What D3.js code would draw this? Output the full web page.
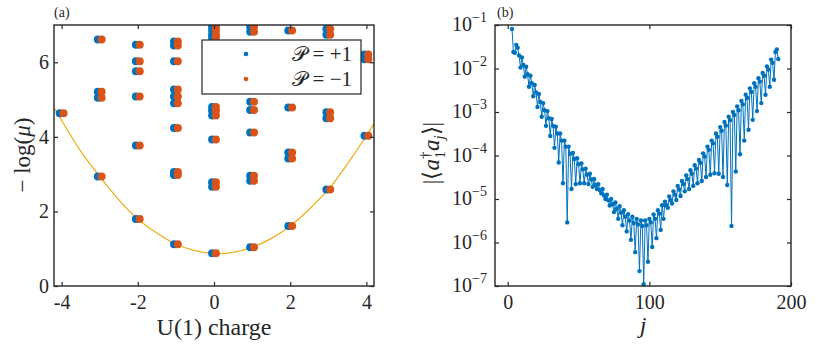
<!DOCTYPE html>
<html>
<head>
<meta charset="utf-8">
<style>
  body { margin: 0; background: #fff; }
  svg text { font-family: "Liberation Serif", "Times New Roman", serif !important; fill: #262626; }
</style>
</head>
<body>
<script src="https://d3js.org/d3.v7.min.js"></script>
<script>
  // ---- panel (a): entanglement levels per U(1) charge ----
  const charges = [-4, -3, -2, -1, 0, 1, 2, 3, 4];
  const levelsPlus = [
    [4.63],
    [6.61, 5.21, 5.05, 2.94],
    [6.47, 6.03, 5.76, 5.08, 3.77, 1.80],
    [6.56, 6.45, 6.03, 5.27, 5.08, 4.90, 4.24, 3.06, 2.98, 1.12],
    [6.95, 6.85, 6.74, 6.65, 4.80, 4.70, 4.57, 3.93, 2.78, 2.66, 0.88],
    [6.95, 6.82, 4.94, 4.72, 4.12, 2.96, 2.82, 1.04],
    [6.85, 4.79, 3.58, 3.42, 1.61],
    [6.89, 6.74, 4.66, 4.50, 2.59],
    [6.21, 6.08, 4.03]
  ];
  const levelsMinus = [
    [4.63],
    [6.61, 5.21, 5.05, 2.94],
    [6.47, 6.03, 5.76, 5.08, 3.77, 1.80],
    [6.56, 6.45, 6.03, 5.27, 5.08, 4.90, 4.24, 3.06, 2.98, 1.12],
    [6.95, 6.85, 6.74, 6.65, 4.80, 4.70, 4.57, 3.93, 2.78, 2.66, 0.88],
    [6.95, 6.82, 4.94, 4.72, 4.12, 2.96, 2.82, 1.04],
    [6.85, 4.79, 3.58, 3.42, 1.61],
    [6.89, 6.74, 4.66, 4.50, 2.59],
    [6.21, 6.08, 4.03]
  ];
  // fitted curve
  const fitQ   = [-4.2, -4, -3.5, -3, -2.5, -2, -1.5, -1, -0.5, 0, 0.5, 1, 1.5, 2, 2.5, 3, 3.5, 4, 4.2];
  const fitVal = [4.78, 4.44, 3.62, 2.94, 2.31, 1.80, 1.42, 1.12, 0.95, 0.87, 0.90, 1.04, 1.27, 1.61, 2.06, 2.59, 3.27, 4.03, 4.36];

  // ---- panel (b): |<a1^dag a_j>| for j = 3 .. 191 ----
  const firstSite = 3;
  const corr = [
    8.1e-2, 2.4e-2, 2.3e-2, 3.5e-2, 3.0e-2, 2.0e-2, 1.05e-2,
    1.8e-2, 1.2e-2, 6.5e-3, 1.1e-2, 7.4e-3, 3.8e-3, 6.8e-3, 4.6e-3, 2.3e-3,
    4.2e-3, 2.8e-3, 1.3e-3, 2.6e-3, 1.7e-3, 7.8e-4, 1.6e-3, 1.1e-3, 4.8e-4,
    1.05e-3, 7.2e-4, 2.8e-4, 6.9e-4, 4.8e-4, 1.5e-4, 4.6e-4, 3.2e-4, 6.9e-5,
    3.2e-4, 2.2e-4, 2.3e-5, 2.2e-4, 1.6e-4, 2.9e-6, 1.6e-4, 1.1e-4, 1.7e-5,
    1.15e-4, 8.3e-5, 2.2e-5, 8.7e-5, 6.3e-5, 2.3e-5, 6.6e-5, 4.8e-5, 2.3e-5,
    5.0e-5, 3.6e-5, 2.2e-5, 3.8e-5, 2.8e-5, 1.9e-5, 2.9e-5, 2.1e-5, 1.7e-5,
    2.2e-5, 1.6e-5, 1.35e-5, 1.7e-5, 1.2e-5, 1.0e-5, 1.26e-5, 9.3e-6, 7.1e-6,
    1.0e-5, 7.6e-6, 5.0e-6, 8.3e-6, 5.9e-6, 3.5e-6, 6.8e-6, 4.8e-6, 2.5e-6,
    5.5e-6, 3.9e-6, 1.8e-6, 4.5e-6, 3.2e-6, 1.15e-6, 3.9e-6, 2.8e-6, 6.0e-7,
    3.5e-6, 2.6e-6, 2.2e-7, 3.2e-6, 2.4e-6, 1.1e-7, 3.2e-6, 2.5e-6, 3.6e-7,
    3.5e-6, 2.9e-6, 7.9e-7, 4.4e-6, 3.5e-6, 1.26e-6, 5.5e-6, 4.6e-6, 1.95e-6,
    7.2e-6, 3.5e-6, 8.7e-6, 7.2e-6, 6.3e-6, 1.15e-5, 9.5e-6, 7.9e-6, 1.5e-5,
    1.26e-5, 9.5e-6, 2.0e-5, 1.66e-5, 1.17e-5, 2.6e-5, 2.2e-5, 1.5e-5, 3.5e-5,
    2.9e-5, 1.7e-5, 4.6e-5, 3.8e-5, 2.0e-5, 6.0e-5, 5.0e-5, 2.3e-5, 7.9e-5,
    6.8e-5, 2.6e-5, 1.12e-4, 9.5e-5, 3.2e-5, 1.6e-4, 1.35e-4, 3.6e-5, 2.2e-4,
    1.9e-4, 3.9e-5, 3.2e-4, 2.7e-4, 3.8e-5, 4.5e-4, 3.7e-4, 3.2e-5, 5.9e-4,
    4.9e-4, 2.1e-5, 7.8e-4, 6.5e-4, 2.4e-6, 1.0e-3, 8.5e-4, 4.3e-5, 1.35e-3,
    1.1e-3, 1.07e-4, 1.8e-3, 1.5e-3, 2.2e-4, 2.5e-3, 2.1e-3, 3.9e-4, 3.5e-3,
    2.9e-3, 6.6e-4, 4.6e-3, 3.8e-3, 1.05e-3, 6.0e-3, 5.0e-3, 1.6e-3, 7.9e-3,
    6.8e-3, 2.5e-3, 1.12e-2, 9.5e-3, 3.8e-3, 1.6e-2, 1.35e-2, 5.5e-3, 2.4e-2,
    2.75e-2, 1.66e-2
  ];

  const blue = "#0072BD", orange = "#D95319", yellow = "#EDB120", ink = "#262626";
  const serif = "'Liberation Serif', 'Times New Roman', serif";

  const svg = d3.select("body").append("svg")
    .attr("width", 831)
    .attr("height", 345)
    .attr("font-family", serif);

  // ================= panel (a) =================
  const xA = d3.scaleLinear().domain([-4.2, 4.2]).range([54, 374]);
  const yA = d3.scaleLinear().domain([0, 7]).range([286, 25]);

  svg.append("clipPath").attr("id", "clipA")
    .append("rect").attr("x", 54).attr("y", 25).attr("width", 320).attr("height", 261);

  const gA = svg.append("g").attr("clip-path", "url(#clipA)");

  gA.append("path")
    .datum(fitQ.map((q, i) => [q, fitVal[i]]))
    .attr("d", d3.line().x(d => xA(d[0])).y(d => yA(d[1])).curve(d3.curveNatural))
    .attr("fill", "none")
    .attr("stroke", yellow)
    .attr("stroke-width", 1.3);

  const plusPts = charges.flatMap((q, i) => levelsPlus[i].map(v => ({q, v})));
  const minusPts = charges.flatMap((q, i) => levelsMinus[i].map(v => ({q, v})));

  gA.selectAll(".plus").data(plusPts).enter()
    .append("circle")
    .attr("cx", d => xA(d.q - 0.05))
    .attr("cy", d => yA(d.v))
    .attr("r", 4)
    .style("fill", blue);

  gA.selectAll(".minus").data(minusPts).enter()
    .append("circle")
    .attr("cx", d => xA(d.q + 0.05))
    .attr("cy", d => yA(d.v))
    .attr("r", 4)
    .style("fill", orange);

  function frame(x0, y0, w, h) {
    svg.append("rect")
      .attr("x", x0).attr("y", y0).attr("width", w).attr("height", h)
      .attr("fill", "none").attr("stroke", ink).attr("stroke-width", 1.4);
  }

  function styleAxis(g) {
    g.attr("font-family", serif);
    g.select(".domain").remove();
    g.selectAll(".tick line").attr("stroke", ink).attr("stroke-width", 1.2);
    g.selectAll(".tick text").style("font-size", "20px").attr("fill", ink);
  }

  svg.append("g").attr("transform", "translate(0,286)")
    .call(d3.axisBottom(xA).tickValues([-4, -2, 0, 2, 4]).tickFormat(d => String(d))
      .tickSizeInner(-4).tickSizeOuter(0).tickPadding(9))
    .call(styleAxis);
  svg.append("g").attr("transform", "translate(0,25)")
    .call(d3.axisTop(xA).tickValues([-4, -2, 0, 2, 4]).tickFormat("")
      .tickSizeInner(-4).tickSizeOuter(0))
    .call(styleAxis);
  svg.append("g").attr("transform", "translate(54,0)")
    .call(d3.axisLeft(yA).tickValues([0, 2, 4, 6]).tickFormat(d => String(d))
      .tickSizeInner(-4).tickSizeOuter(0).tickPadding(5))
    .call(styleAxis);
  svg.append("g").attr("transform", "translate(374,0)")
    .call(d3.axisRight(yA).tickValues([0, 2, 4, 6]).tickFormat("")
      .tickSizeInner(-4).tickSizeOuter(0))
    .call(styleAxis);

  // legend
  const leg = svg.append("g");
  leg.append("rect")
    .attr("x", 202).attr("y", 40).attr("width", 159).attr("height", 54)
    .attr("fill", "#fff").attr("stroke", ink).attr("stroke-width", 1.2);
  leg.append("circle").attr("cx", 246).attr("cy", 54).attr("r", 2.3).style("fill", blue);
  leg.append("circle").attr("cx", 246).attr("cy", 79).attr("r", 2.3).style("fill", orange);
  leg.append("text").attr("x", 352).attr("y", 61).attr("text-anchor", "end")
    .style("font-size", "21px").text("\u{1D4AB} = +1");
  leg.append("text").attr("x", 352).attr("y", 86).attr("text-anchor", "end")
    .style("font-size", "21px").text("\u{1D4AB} = \u22121");

  frame(54, 25, 320, 261);

  svg.append("text").attr("x", 214).attr("y", 335).attr("text-anchor", "middle")
    .style("font-size", "24px").text("U(1) charge");

  const ylabA = svg.append("text")
    .attr("transform", "translate(30,155) rotate(-90)")
    .attr("text-anchor", "middle")
    .style("font-size", "23px");
  ylabA.append("tspan").text("\u2212 log(");
  ylabA.append("tspan").style("font-style", "italic").text("\u03BC");
  ylabA.append("tspan").text(")");

  svg.append("text").attr("x", 54).attr("y", 17).style("font-size", "14px").text("(a)");

  // ================= panel (b) =================
  const xB = d3.scaleLinear().domain([-9, 200]).range([495, 791]);
  const yB = d3.scaleLog().domain([1e-7, 1e-1]).range([286, 25]);

  const pts = corr.map((v, i) => ({j: firstSite + i, v}));

  svg.append("clipPath").attr("id", "clipB")
    .append("rect").attr("x", 495).attr("y", 22).attr("width", 296).attr("height", 267);
  const gB = svg.append("g").attr("clip-path", "url(#clipB)");

  gB.append("path")
    .datum(pts)
    .attr("d", d3.line().x(d => xB(d.j)).y(d => yB(d.v)))
    .attr("fill", "none")
    .attr("stroke", blue)
    .attr("stroke-width", 1);

  gB.selectAll("circle").data(pts).enter()
    .append("circle")
    .attr("cx", d => xB(d.j))
    .attr("cy", d => yB(d.v))
    .attr("r", 2.2)
    .style("fill", blue);

  const decades = [1e-7, 1e-6, 1e-5, 1e-4, 1e-3, 1e-2, 1e-1];

  svg.append("g").attr("transform", "translate(0,286)")
    .call(d3.axisBottom(xB).tickValues([0, 100, 200]).tickFormat(d => String(d))
      .tickSizeInner(-4).tickSizeOuter(0).tickPadding(9))
    .call(styleAxis);
  svg.append("g").attr("transform", "translate(0,25)")
    .call(d3.axisTop(xB).tickValues([0, 100, 200]).tickFormat("")
      .tickSizeInner(-4).tickSizeOuter(0))
    .call(styleAxis);
  svg.append("g").attr("transform", "translate(495,0)")
    .call(d3.axisLeft(yB).tickValues(decades).tickFormat("")
      .tickSizeInner(-4).tickSizeOuter(0))
    .call(styleAxis);
  svg.append("g").attr("transform", "translate(791,0)")
    .call(d3.axisRight(yB).tickValues(decades).tickFormat("")
      .tickSizeInner(-4).tickSizeOuter(0))
    .call(styleAxis);

  const ylabels = svg.append("g").selectAll("text").data(decades).enter()
    .append("text")
    .attr("x", 487)
    .attr("y", d => yB(d) + 6)
    .attr("text-anchor", "end")
    .style("font-size", "20px");
  ylabels.append("tspan").text("10");
  ylabels.append("tspan").attr("dy", -9).style("font-size", "14px")
    .text(d => "\u2212" + Math.round(-Math.log10(d)));

  frame(495, 25, 296, 261);

  svg.append("text").attr("x", 643).attr("y", 333).attr("text-anchor", "middle")
    .style("font-size", "24px").style("font-style", "italic").text("j");

  const ylabB = svg.append("text")
    .attr("transform", "translate(439,153) rotate(-90)")
    .attr("text-anchor", "middle")
    .style("font-size", "23px");
  ylabB.append("tspan").text("|\u27E8");
  ylabB.append("tspan").style("font-style", "italic").text("a");
  ylabB.append("tspan").attr("dy", -9).style("font-size", "15px").text("\u2020");
  ylabB.append("tspan").attr("dx", -7).attr("dy", 15).style("font-size", "15px").text("1");
  ylabB.append("tspan").attr("dy", -6).style("font-style", "italic").text("a");
  ylabB.append("tspan").attr("dy", 5).style("font-size", "15px").style("font-style", "italic").text("j");
  ylabB.append("tspan").attr("dy", -5).text("\u27E9|");

  svg.append("text").attr("x", 497).attr("y", 17).style("font-size", "14px").text("(b)");
</script>
</body>
</html>
